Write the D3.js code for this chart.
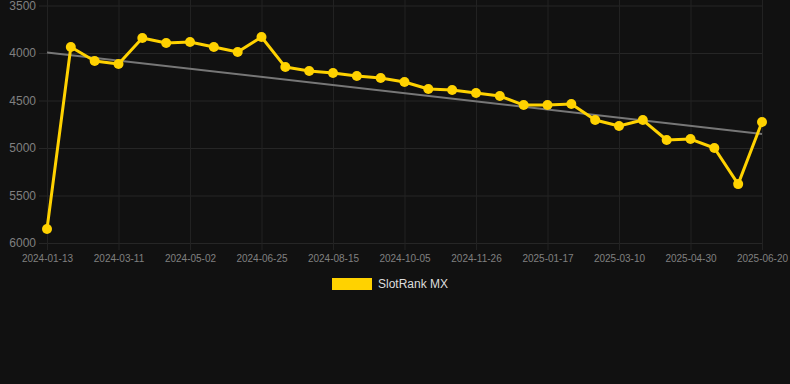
<!DOCTYPE html>
<html>
<head>
<meta charset="utf-8">
<script src="https://cdn.jsdelivr.net/npm/d3@7"></script>
<style>
  html, body { margin: 0; padding: 0; background: #111111; }
  svg { display: block; font-family: "Liberation Sans", Arial, Helvetica, sans-serif; }
</style>
</head>
<body>
<div id="chart"></div>
<script>
// Dates on the x axis (every third one is shown as a label)
var dates = ["2024-01-13", "2024-02-01", "2024-02-20", "2024-03-11", "2024-03-28", "2024-04-15",
  "2024-05-02", "2024-05-20", "2024-06-07", "2024-06-25", "2024-07-12", "2024-07-29",
  "2024-08-15", "2024-09-01", "2024-09-18", "2024-10-05", "2024-10-22", "2024-11-09",
  "2024-11-26", "2024-12-13", "2024-12-31", "2025-01-17", "2025-02-03", "2025-02-20",
  "2025-03-10", "2025-03-27", "2025-04-13", "2025-04-30", "2025-05-17", "2025-06-03",
  "2025-06-20"];

// SlotRank MX rank values
var ranks = [5853, 3937, 4084, 4116, 3842, 3895, 3884, 3937, 3990, 3832, 4148, 4190,
  4211, 4242, 4263, 4305, 4379, 4390, 4421, 4453, 4548, 4548, 4537, 4706, 4769, 4706,
  4916, 4906, 5000, 5380, 4727];

var yTicks = [3500, 4000, 4500, 5000, 5500, 6000];
var seriesName = "SlotRank MX";

var width = 790, height = 384;

var svg = d3.select("#chart")
  .append("svg")
    .attr("width", width)
    .attr("height", height);

var x = d3.scalePoint().domain(dates).range([47, 762]);
// rank axis is reversed: lower rank on top
var y = d3.scaleLinear().domain([3500, 6000]).range([5.5, 243]);

// horizontal grid + y labels
svg.append("g")
  .attr("transform", "translate(39,0)")
  .call(d3.axisLeft(y).tickValues(yTicks).tickFormat(d3.format("d")).tickSize(-(762 - 39)).tickPadding(3))
  .call(function(g) {
    g.select(".domain").remove();
    g.selectAll(".tick line").attr("stroke", "#262626");
    g.selectAll(".tick text")
      .attr("fill", "#808080")
      .style("font-size", "12px")
      .style("font-family", "Liberation Sans, Arial, sans-serif");
  });

// vertical grid at shown labels + x labels
var shown = dates.filter(function(d, i) { return i % 3 === 0; });
svg.append("g")
  .attr("transform", "translate(0,250)")
  .call(d3.axisBottom(x).tickValues(shown).tickSize(-250).tickPadding(4))
  .call(function(g) {
    g.select(".domain").remove();
    g.selectAll(".tick line").attr("stroke", "#222");
    g.selectAll(".tick text")
      .attr("fill", "#808080")
      .attr("y", 5)
      .style("font-size", "10px")
      .style("font-family", "Liberation Sans, Arial, sans-serif");
  });

// least squares trend line
var n = ranks.length;
var mx = d3.mean(ranks, function(d, i) { return i; });
var my = d3.mean(ranks);
var sxy = d3.sum(ranks, function(d, i) { return (i - mx) * (d - my); });
var sxx = d3.sum(ranks, function(d, i) { return (i - mx) * (i - mx); });
var slope = sxy / sxx, intercept = my - slope * mx;

svg.append("line")
  .attr("x1", x(dates[0]))
  .attr("y1", y(intercept))
  .attr("x2", x(dates[n - 1]))
  .attr("y2", y(intercept + slope * (n - 1)))
  .attr("stroke", "#777")
  .attr("stroke-width", 2);

// series line
var line = d3.line()
  .x(function(d, i) { return x(dates[i]); })
  .y(function(d) { return y(d); });

svg.append("path")
  .datum(ranks)
  .attr("d", line)
  .attr("fill", "none")
  .attr("stroke", "#FFD200")
  .attr("stroke-width", 3)
  .attr("stroke-linejoin", "round");

svg.selectAll("circle.pt")
  .data(ranks)
  .join("circle")
    .attr("class", "pt")
    .attr("cx", function(d, i) { return x(dates[i]); })
    .attr("cy", function(d) { return y(d); })
    .attr("r", 5)
    .attr("fill", "#FFD200");

// legend
var legend = svg.append("g").attr("transform", "translate(332,278)");
legend.append("rect")
  .attr("width", 40)
  .attr("height", 12)
  .attr("fill", "#FFD200");
legend.append("text")
  .attr("x", 46)
  .attr("y", 6)
  .attr("dy", "0.35em")
  .attr("fill", "#ddd")
  .style("font-size", "12px")
  .text(seriesName);
</script>
</body>
</html>
